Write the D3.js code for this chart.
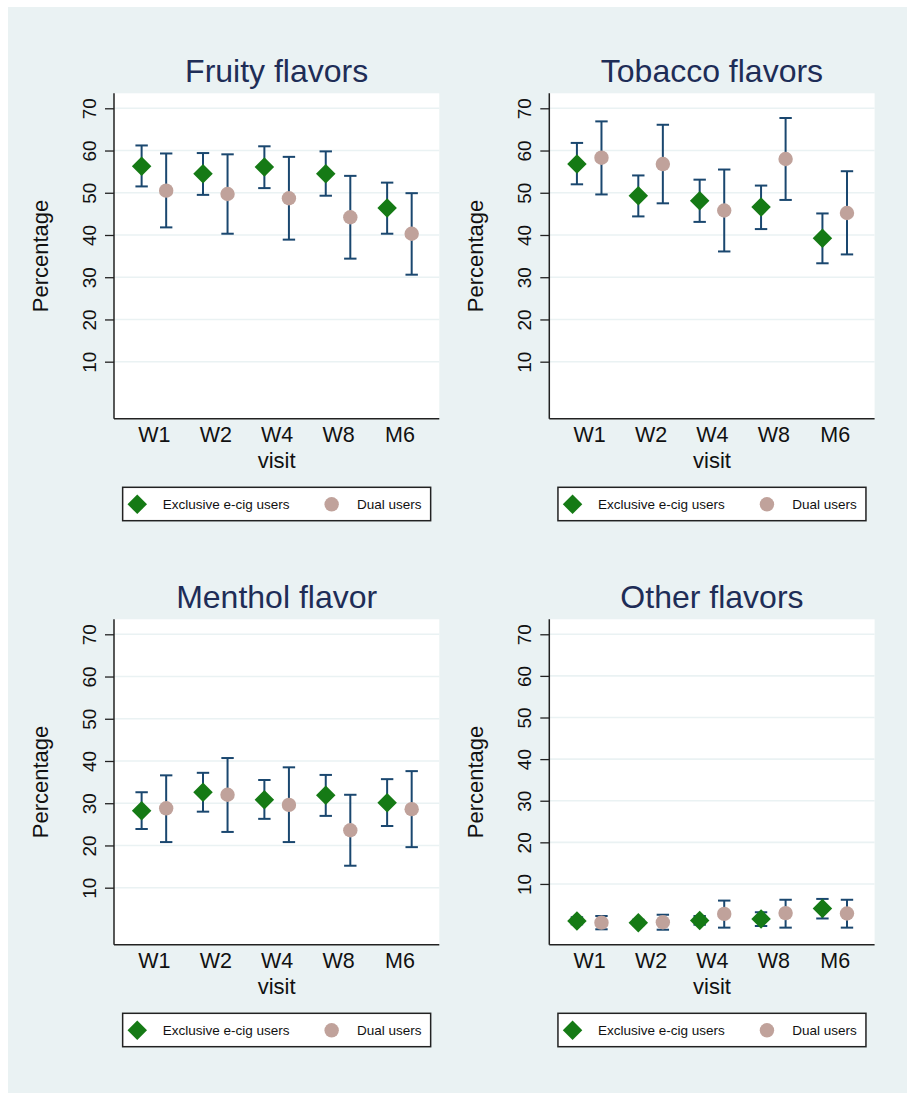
<!DOCTYPE html>
<html>
<head>
<meta charset="utf-8">
<script src="https://cdn.jsdelivr.net/npm/d3@7"></script>
<style>
  body { margin: 0; background: #fff; }
  text { font-family: "Liberation Sans", Arial, Helvetica, sans-serif; }
</style>
</head>
<body>
<script>
// visits on the x axis
const visits = ["W1", "W2", "W4", "W8", "M6"];
const yTicks = [10, 20, 30, 40, 50, 60, 70];
const titles = ["Fruity flavors", "Tobacco flavors", "Menthol flavor", "Other flavors"];
const seriesNames = ["Exclusive e-cig users", "Dual users"];

// Fruity
const fruityExcl   = [56.3, 54.5, 56.1, 54.5, 46.4];
const fruityExclLo = [51.5, 49.5, 51.1, 49.3, 40.3];
const fruityExclHi = [61.2, 59.4, 61.0, 59.8, 52.4];
const fruityDual   = [50.5, 49.7, 48.7, 44.2, 40.3];
const fruityDualLo = [41.8, 40.3, 38.9, 34.4, 30.6];
const fruityDualHi = [59.3, 59.1, 58.5, 54.0, 49.9];

// Tobacco
const tobaccoExcl   = [56.8, 49.3, 48.1, 46.6, 39.2];
const tobaccoExclLo = [52.0, 44.4, 43.1, 41.4, 33.3];
const tobaccoExclHi = [61.8, 54.1, 53.1, 51.7, 45.1];
const tobaccoDual   = [58.3, 56.8, 45.8, 58.0, 45.2];
const tobaccoDualLo = [49.6, 47.5, 36.1, 48.3, 35.4];
const tobaccoDualHi = [66.9, 66.1, 55.5, 67.7, 55.1];

// Menthol
const mentholExcl   = [28.2, 32.6, 30.8, 31.9, 30.1];
const mentholExclLo = [23.9, 28.0, 26.3, 27.0, 24.6];
const mentholExclHi = [32.6, 37.2, 35.5, 36.7, 35.7];
const mentholDual   = [28.8, 32.0, 29.6, 23.6, 28.6];
const mentholDualLo = [20.8, 23.2, 20.8, 15.2, 19.6];
const mentholDualHi = [36.6, 40.7, 38.5, 32.0, 37.6];

// Other
const otherExcl   = [1.1, 0.7, 1.2, 1.6, 4.1];
const otherExclLo = [0.3, 0.1, 0.2, -0.1, 1.7];
const otherExclHi = [2.0, 1.4, 2.3, 3.2, 6.4];
const otherDual   = [0.7, 0.8, 2.8, 3.0, 2.9];
const otherDualLo = [-0.9, -1.0, -0.5, -0.5, -0.5];
const otherDualHi = [2.3, 2.6, 6.0, 6.2, 6.2];

const panels = [
  { title: titles[0], excl: [fruityExcl, fruityExclLo, fruityExclHi], dual: [fruityDual, fruityDualLo, fruityDualHi], yDom: [-3.5, 73.55] },
  { title: titles[1], excl: [tobaccoExcl, tobaccoExclLo, tobaccoExclHi], dual: [tobaccoDual, tobaccoDualLo, tobaccoDualHi], yDom: [-3.5, 73.55] },
  { title: titles[2], excl: [mentholExcl, mentholExclLo, mentholExclHi], dual: [mentholDual, mentholDualLo, mentholDualHi], yDom: [-3.5, 73.55] },
  { title: titles[3], excl: [otherExcl, otherExclLo, otherExclHi], dual: [otherDual, otherDualLo, otherDualHi], yDom: [-4.6, 73.6] }
];

const W = 907, H = 1093;
const bg = "#eaf2f3", navy = "#1a476f", green = "#157a15", rose = "#c0a29b", titleCol = "#1e2d57";
const plotW = 325.3, plotH = 325.4;
const origins = [[114, 93.3], [549.3, 93.3], [114, 619.3], [549.3, 619.3]];

const svg = d3.select("body").append("svg").attr("width", W).attr("height", H);

svg.append("rect").attr("x", 8).attr("y", 7).attr("width", W - 8).attr("height", H - 7).attr("fill", bg);

const diamond = d3.symbol().type(d3.symbolSquare).size(190);

panels.forEach(function (p, k) {
  const x0 = origins[k][0], y0 = origins[k][1];
  const g = svg.append("g").attr("transform", "translate(" + x0 + "," + y0 + ")");

  const x = d3.scalePoint().domain(visits).range([0, plotW]).padding(0.65);
  const y = d3.scaleLinear().domain(p.yDom).range([plotH, 0]);
  const off = x.step() * 0.2;

  g.append("rect").attr("width", plotW).attr("height", plotH).attr("fill", "#fff");

  // gridlines
  g.selectAll(".grid").data(yTicks).enter().append("line")
    .attr("x1", 0).attr("x2", plotW)
    .attr("y1", function (d) { return y(d); }).attr("y2", function (d) { return y(d); })
    .attr("stroke", bg).attr("stroke-width", 1.6);

  // y axis
  const yAx = g.append("g").call(d3.axisLeft(y).tickValues(yTicks).tickSize(9).tickPadding(0));
  yAx.select(".domain").remove();
  yAx.selectAll(".tick line").attr("stroke", "#222").attr("stroke-width", 1.3);
  yAx.selectAll(".tick text")
    .attr("x", 0).attr("dy", 0)
    .attr("transform", "translate(-18,0) rotate(-90)")
    .attr("text-anchor", "middle")
    .attr("font-size", 19).attr("fill", "#111");
  g.append("line").attr("x1", 0).attr("x2", 0).attr("y1", 0).attr("y2", plotH)
    .attr("stroke", "#222").attr("stroke-width", 1.5);

  // x axis
  const xAx = g.append("g").attr("transform", "translate(0," + plotH + ")")
    .call(d3.axisBottom(x).tickSize(0).tickPadding(0));
  xAx.select(".domain").remove();
  xAx.selectAll(".tick text").attr("y", 23).attr("dy", 0)
    .attr("font-size", 21.5).attr("fill", "#111");
  g.append("line").attr("x1", 0).attr("x2", plotW).attr("y1", plotH).attr("y2", plotH)
    .attr("stroke", "#222").attr("stroke-width", 1.5);

  // titles
  g.append("text").attr("x", plotW / 2).attr("y", -11.6)
    .attr("text-anchor", "middle").attr("font-size", 32).attr("fill", titleCol)
    .text(p.title);
  g.append("text").attr("x", plotW / 2).attr("y", plotH + 49.6)
    .attr("text-anchor", "middle").attr("font-size", 22).attr("fill", "#111")
    .text("visit");
  g.append("text")
    .attr("transform", "translate(-66," + plotH / 2 + ") rotate(-90)")
    .attr("text-anchor", "middle").attr("font-size", 22).attr("fill", "#111")
    .text("Percentage");

  // error bars + markers
  [[p.excl, -off], [p.dual, off]].forEach(function (s) {
    const vals = s[0], dx = s[1];
    const bars = g.append("g");
    visits.forEach(function (v, i) {
      const cx = x(v) + dx;
      bars.append("line").attr("x1", cx).attr("x2", cx)
        .attr("y1", y(vals[1][i])).attr("y2", y(vals[2][i]))
        .attr("stroke", navy).attr("stroke-width", 2);
      [vals[1][i], vals[2][i]].forEach(function (e) {
        bars.append("line").attr("x1", cx - 6.2).attr("x2", cx + 6.2)
          .attr("y1", y(e)).attr("y2", y(e))
          .attr("stroke", navy).attr("stroke-width", 2);
      });
    });
  });

  g.selectAll(".excl").data(p.excl[0]).enter().append("path")
    .attr("d", diamond)
    .attr("transform", function (d, i) { return "translate(" + (x(visits[i]) - off) + "," + y(d) + ") rotate(45)"; })
    .attr("fill", green);

  g.selectAll(".dual").data(p.dual[0]).enter().append("circle")
    .attr("cx", function (d, i) { return x(visits[i]) + off; })
    .attr("cy", function (d) { return y(d); })
    .attr("r", 7.2)
    .attr("fill", rose);

  // legend
  const lg = g.append("g").attr("transform", "translate(" + (plotW / 2 - 154) + "," + (plotH + 68.6) + ")");
  lg.append("rect").attr("width", 308).attr("height", 33.4)
    .attr("fill", "#fff").attr("stroke", "#222").attr("stroke-width", 1.5);
  lg.append("path").attr("d", diamond).attr("transform", "translate(14.6,17) rotate(45)").attr("fill", green);
  lg.append("text").attr("x", 40).attr("y", 22).attr("font-size", 13.5).attr("fill", "#111").text(seriesNames[0]);
  lg.append("circle").attr("cx", 209).attr("cy", 17).attr("r", 7.2).attr("fill", rose);
  lg.append("text").attr("x", 234.4).attr("y", 22).attr("font-size", 13.5).attr("fill", "#111").text(seriesNames[1]);
});
</script>
</body>
</html>
